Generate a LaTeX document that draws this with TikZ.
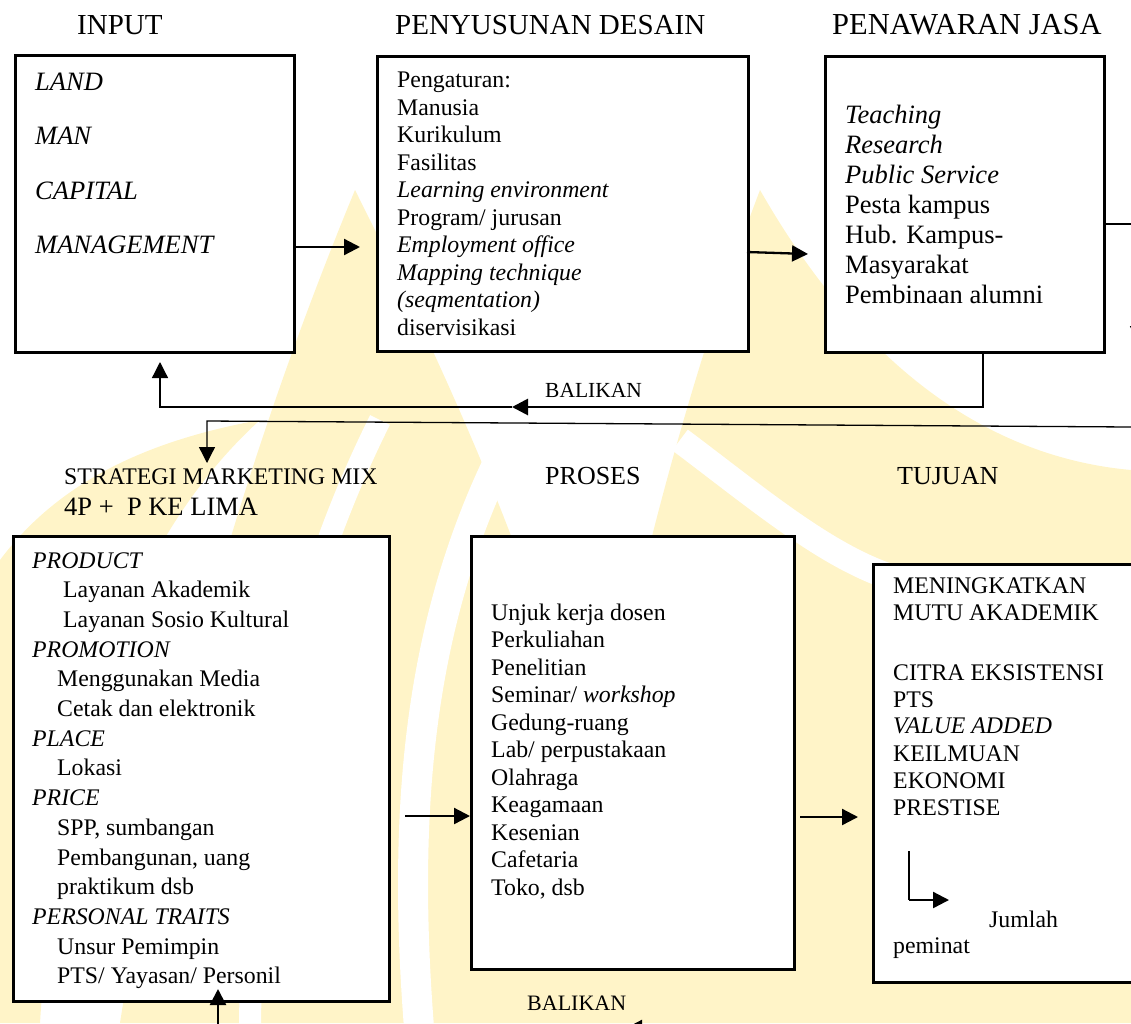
\documentclass[tikz,border=0pt]{standalone}
\usepackage{fontspec}
\setmainfont{Liberation Serif}
\usetikzlibrary{arrows.meta}
\definecolor{wmark}{HTML}{FFF4C8}
\begin{document}
\begin{tikzpicture}[x=1pt,y=-1pt,
  box/.style={draw=black, line width=2.6pt, fill=white, inner sep=0pt, anchor=north west},
  hdr/.style={font=\fontsize{29}{34}\selectfont, inner sep=0pt, anchor=base west},
  hdrmid/.style={font=\fontsize{26}{30}\selectfont, inner sep=0pt, anchor=base west},
  ln/.style={font=\fontsize{23.8}{27.5}\selectfont, inner sep=0pt, anchor=base west},
  lnbig/.style={font=\fontsize{26.5}{30}\selectfont, inner sep=0pt, anchor=base west},
  lnsmall/.style={font=\fontsize{21.5}{25}\selectfont, inner sep=0pt, anchor=base west},
  tip/.style={-{Triangle[length=16pt,width=16pt]}},
  link/.style={line width=2.3pt, tip},
  thinline/.style={line width=1.3pt},
]
\useasboundingbox (0,0) rectangle (1131,1023);

% pale background emblem
\begin{scope}
  \fill[wmark] (120,1023) .. controls (170,700) and (260,420) .. (355,190)
        .. controls (470,420) and (600,700) .. (630,1023) -- cycle;
  \fill[wmark] (560,1023) .. controls (600,700) and (680,400) .. (760,190)
        .. controls (880,400) and (1020,460) .. (1131,470) -- (1131,1023) -- cycle;
  \fill[wmark] (0,560) .. controls (60,480) and (150,440) .. (260,420)
        .. controls (150,520) and (60,700) .. (40,1023) -- (0,1023) -- cycle;
  \draw[white, line width=30pt] (420,1040) .. controls (400,800) and (420,600) .. (520,420);
  \draw[white, line width=26pt] (680,440) .. controls (760,500) and (830,560) .. (900,580);
  \draw[white, line width=22pt] (250,1040) .. controls (250,800) and (290,600) .. (380,420);
\end{scope}

% column headers, top row
\node[hdr] (hInput)  at (77,34)  {INPUT};
\node[hdr] (hDesain) at (395,34) {PENYUSUNAN DESAIN};
\node[hdr, font=\fontsize{30.5}{34}\selectfont] (hJasa) at (832,34) {PENAWARAN JASA};

% boxes, top row
\node[box, minimum width=279pt, minimum height=297pt] (input)  at (14,54)  {};
\node[box, minimum width=371pt, minimum height=295pt] (desain) at (376,55) {};
\node[box, minimum width=279pt, minimum height=296pt] (jasa)   at (824,55) {};

\foreach [count=\k] \t in {LAND,MAN,CAPITAL,MANAGEMENT}
  \node[lnbig] (in\k) at (35,{90+(\k-1)*54.5}) {\itshape\t};

\foreach [count=\k] \t in {{Pengaturan:},Manusia,Kurikulum,Fasilitas,
    {\itshape Learning environment},{Program/ jurusan},{\itshape Employment office},
    {\itshape Mapping technique},{\itshape (seqmentation)},diservisikasi}
  \node[ln] (ds\k) at (397,{87.5+(\k-1)*27.5}) {\t};

\foreach [count=\k] \t in {{\itshape Teaching},{\itshape Research},{\itshape Public Service},
    {Pesta kampus},{Hub. Kampus-},Masyarakat,{Pembinaan alumni}}
  \node[lnbig] (js\k) at (845,{123+(\k-1)*30}) {\t};

% flow along the top row
\coordinate (a1) at (360,247);
\draw[link] (input.east |- a1) -- (a1);
\coordinate (a2s) at (747,252);
\coordinate (a2) at (808,254);
\draw[link] (a2s) -- (a2);

% line leaving the right side of the services box
\coordinate (r1) at (1138,342);
\draw[thinline, tip] (jasa.east |- 0,224) -| (r1);

% upper feedback loop
\coordinate (fb1) at (983,407);
\coordinate (fb2) at (512,407);
\coordinate (fb3) at (160,407);
\coordinate (fb4) at (160,362);
\draw[line width=2.8pt, tip] (jasa.south -| fb1) -- (fb1) -- (fb2);
\draw[thinline, tip] (fb2) -- (fb3) -- (fb4);
\node[lnsmall] (balik1) at (545,397) {BALIKAN};

% return line down to the marketing mix
\coordinate (m0) at (1131,427);
\coordinate (m1) at (207,421);
\coordinate (m2) at (207,463);
\draw[thinline, tip] (m0) -- (m1) -- (m2);

% column headers, bottom row
\node[ln] (hMix) at (64,484) {STRATEGI MARKETING MIX};
\node[lnbig] (hMix2) at (64,515) {4P + \ P KE LIMA};
\node[hdrmid] (hProses) at (545,484) {PROSES};
\node[hdrmid] (hTujuan) at (897,484) {TUJUAN};

% boxes, bottom row
\node[box, minimum width=376pt, minimum height=465pt] (mix)    at (12,535)  {};
\node[box, minimum width=323pt, minimum height=433pt] (proses) at (470,535) {};
\node[box, minimum width=275pt, minimum height=418pt] (tujuan) at (872,563) {};

\foreach [count=\k] \x/\t in {32/{\itshape PRODUCT},63/{Layanan Akademik},63/{Layanan Sosio Kultural},
    32/{\itshape PROMOTION},57/{Menggunakan Media},57/{Cetak dan elektronik},
    32/{\itshape PLACE},57/{Lokasi},32/{\itshape PRICE},57/{SPP, sumbangan},
    57/{Pembangunan, uang},57/{praktikum dsb},32/{\itshape PERSONAL TRAITS},
    57/{Unsur Pemimpin},57/{PTS/ Yayasan/ Personil}}
  \node[ln] (mx\k) at (\x,{568+(\k-1)*29.7}) {\t};

\foreach [count=\k] \t in {{Unjuk kerja dosen},Perkuliahan,Penelitian,
    {Seminar/ \textit{workshop}},Gedung-ruang,{Lab/ perpustakaan},Olahraga,
    Keagamaan,Kesenian,Cafetaria,{Toko, dsb}}
  \node[ln] (pr\k) at (491,{620+(\k-1)*27.5}) {\t};

\foreach [count=\k] \y/\t in {593/MENINGKATKAN,620/{MUTU AKADEMIK},680/{CITRA EKSISTENSI},
    707/PTS,733/{\itshape VALUE ADDED},761/KEILMUAN,788/EKONOMI,815/PRESTISE}
  \node[ln] (tj\k) at (893,\y) {\t};

\coordinate (j1) at (909,851);
\coordinate (j2) at (909,900);
\coordinate (j3) at (949,900);
\draw[line width=1.8pt] (j1) -- (j2);
\draw[link] (j2) -- (j3);
\node[ln] (jumlah) at (989,927) {Jumlah};
\node[ln] (peminat) at (893,953) {peminat};

% flow along the bottom row
\coordinate (b1s) at (405,816);
\coordinate (b1) at (470,816);
\draw[link] (b1s) -- (b1);
\coordinate (b2s) at (800,817);
\coordinate (b2) at (858,817);
\draw[link] (b2s) -- (b2);

% lower feedback
\coordinate (u0) at (218,1030);
\coordinate (u1) at (218,989);
\draw[link] (u0) -- (u1);
\node[lnsmall, font=\fontsize{22}{26}\selectfont] (balik2) at (527,1010) {BALIKAN};
\coordinate (v0) at (760,1028);
\coordinate (v1) at (626,1028);
\draw[link] (v0) -- (v1);
\end{tikzpicture}
\end{document}
